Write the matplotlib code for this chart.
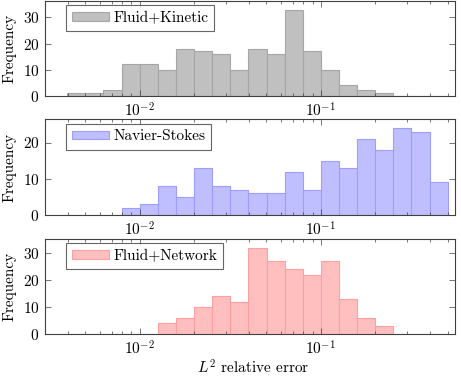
import numpy as np
import matplotlib
matplotlib.use("Agg")
import matplotlib.pyplot as plt
from matplotlib.ticker import LogLocator, NullFormatter

plt.rcParams['font.family'] = ['cmr10', 'DejaVu Serif']
plt.rcParams['mathtext.fontset'] = 'cm'
plt.rcParams['axes.formatter.use_mathtext'] = True

# bin edges: 21 log bins, 10^-2.4 .. 10^-0.3
bin_exp = np.arange(-2.4, -0.25, 0.1)
edges = 10 ** bin_exp

# counts per bin
kinetic = [1, 1, 2, 12, 12, 10, 18, 17, 16, 10, 18, 16, 33, 17, 10, 4, 2, 1, 0, 0, 0]
navier = [0, 0, 0, 2, 3, 8, 5, 13, 8, 7, 6, 6, 12, 7, 15, 13, 21, 18, 24, 23, 9]
network = [0, 0, 0, 0, 0, 4, 6, 10, 14, 12, 32, 27, 24, 22, 27, 13, 6, 3, 0, 0, 0]

labels = ['Fluid+Kinetic', 'Navier-Stokes', 'Fluid+Network']
fills = ['#c0c0c0', '#bfbfff', '#ffbfbf']
lines = ['#a6a6a6', '#9d9dff', '#ff9f9f']
yticks = [[0, 10, 20, 30], [0, 10, 20], [0, 10, 20, 30]]

fig = plt.figure(figsize=(4.61, 3.76), dpi=100)
W, H = 461.0, 376.0
boxes = [(1, 95.7), (119.3, 215), (239, 334.3)]
frame = '#404040'
fs = 11

for i, counts in enumerate([kinetic, navier, network]):
    top, bot = boxes[i]
    ax = fig.add_axes([45 / W, 1 - bot / H, 410 / W, (bot - top) / H])
    ax.hist(edges[:-1], bins=edges, weights=counts, color=fills[i],
            edgecolor=lines[i], linewidth=0.8, label=labels[i])
    ax.set_xscale('log')
    ax.set_xlim(3e-3, 0.55)
    ax.set_ylim(0, max(counts) * 1.1)
    ax.set_yticks(yticks[i])
    ax.xaxis.set_major_locator(LogLocator(base=10))
    ax.xaxis.set_minor_locator(LogLocator(base=10, subs=np.arange(2, 10)))
    ax.xaxis.set_minor_formatter(NullFormatter())
    ax.tick_params(which='both', direction='in', top=True, right=True,
                   labelsize=fs, colors=frame, labelcolor='black', width=0.5)
    ax.tick_params(which='major', length=4, pad=4)
    ax.tick_params(which='minor', length=2.5)
    for s in ax.spines.values():
        s.set_color(frame)
        s.set_linewidth(0.8)
    ax.set_ylabel('Frequency', fontsize=fs)
    ax.yaxis.set_label_coords(-0.07, 0.5)
    leg = ax.legend(loc='upper left', fontsize=fs, fancybox=False,
                    handlelength=2.4, handleheight=0.5, handletextpad=0.3,
                    borderpad=0.4, borderaxespad=0, bbox_to_anchor=(0.051, 0.955))
    leg.get_frame().set_edgecolor(frame)
    leg.get_frame().set_linewidth(0.8)

fig.text(253 / W, 1 - 368 / H, '$L^2$ relative error', fontsize=fs,
         ha='center', va='center')

fig.savefig('out.png', dpi=100)
